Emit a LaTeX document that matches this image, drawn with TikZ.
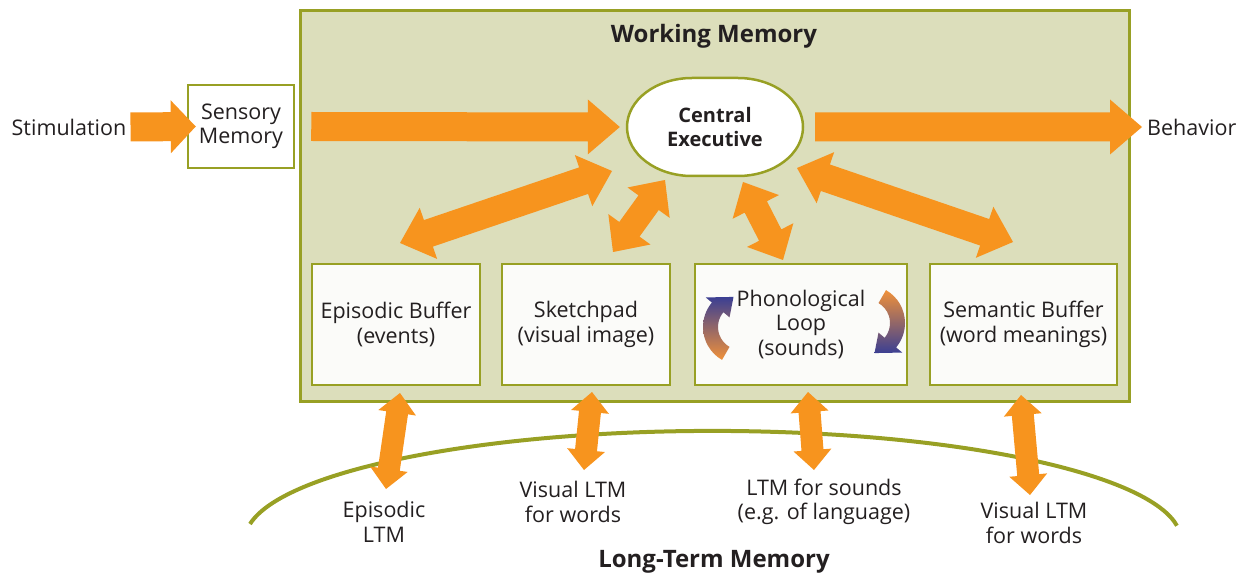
\documentclass[tikz,border=0pt]{standalone}
\usepackage{fontspec}
\setmainfont{Open Sans}
\usetikzlibrary{calc}
\definecolor{wmborder}{HTML}{98A024}
\definecolor{wmfill}{HTML}{DCDEBB}
\definecolor{boxfill}{HTML}{FBFBF9}
\definecolor{orng}{HTML}{F7941E}
\definecolor{txt}{HTML}{231F20}
\definecolor{loopblue}{HTML}{3B3F93}
\definecolor{looporange}{HTML}{F0913A}
\tikzset{
  membox/.style={draw=wmborder, line width=2.5pt, fill=boxfill, align=center, inner sep=0pt},
  lbl/.style={align=center, inner sep=2pt},
  titlefont/.style={font=\fontsize{24}{28}\selectfont\bfseries},
  ltmarc/.style={draw=wmborder, line width=4pt},
  fatarrow/.style={fill=orng},
}
% double-headed fat arrow: #1 tip, #2 tip, #3 body half width, #4 head half width, #5 head length
\newcommand\DblArrow[5]{%
  \coordinate (da1) at ($(#1)!#5!(#2)$);
  \coordinate (da2) at ($(#2)!#5!(#1)$);
  \path[fatarrow] (#1) -- ($(da1)!#4!90:(#2)$) -- ($(da1)!#3!90:(#2)$) -- ($(da2)!#3!-90:(#1)$) -- ($(da2)!#4!-90:(#1)$) -- (#2) -- ($(da2)!#4!90:(#1)$) -- ($(da2)!#3!90:(#1)$) -- ($(da1)!#3!-90:(#2)$) -- ($(da1)!#4!-90:(#2)$) -- cycle;}
% single fat arrow: #1 tail, #2 tip
\newcommand\OneArrow[5]{%
  \coordinate (sa1) at ($(#2)!#5!(#1)$);
  \path[fatarrow] ($(#1)!#3!90:(#2)$) -- ($(sa1)!#3!-90:(#1)$) -- ($(sa1)!#4!-90:(#1)$) -- (#2) -- ($(sa1)!#4!90:(#1)$) -- ($(sa1)!#3!90:(#1)$) -- ($(#1)!#3!-90:(#2)$) -- cycle;}
\begin{document}
\begin{tikzpicture}[x=1pt,y=-1pt, font=\fontsize{21.5}{24.5}\selectfont, text=txt]
\useasboundingbox (0,0) rectangle (1236,577);
% working memory box
\node[draw=wmborder, line width=3pt, fill=wmfill, minimum width=829pt, minimum height=390pt, inner sep=0pt] (wm) at (714.5,206) {};
\node[titlefont] (wmt) at (714,36) {Working Memory};
% nodes
\node[lbl] (stim) at (69,127) {Stimulation};
\node[membox, fill=white, minimum width=106pt, minimum height=83pt] (sens) at (241,126.5) {Sensory\\Memory};
\coordinate (cec) at (715,127);
\path[draw=wmborder, line width=2.5pt, fill=white] ($(cec)+(-23,-49)$) -- ++(46,0)
  arc[start angle=270, end angle=360, x radius=65, y radius=49]
  arc[start angle=0, end angle=90, x radius=65, y radius=49] -- ++(-46,0)
  arc[start angle=90, end angle=180, x radius=65, y radius=49]
  arc[start angle=180, end angle=270, x radius=65, y radius=49] -- cycle;
\node[align=center, inner sep=0pt, minimum width=176pt, minimum height=98pt, font=\fontsize{20}{24.5}\selectfont\bfseries] (ce) at (cec) {Central\\Executive};
\node[lbl, anchor=west] (beh) at (1145,127) {Behavior};
\node[membox, minimum width=168pt, minimum height=121pt] (epi) at (396,324.5) {Episodic Buffer\\(events)};
\node[membox, minimum width=168pt, minimum height=121pt] (sketch) at (586,324.5) {Sketchpad\\(visual image)};
\node[membox, minimum width=212pt, minimum height=121pt] (phon) at (801,324.5) {Phonological\\Loop\\(sounds)};
\node[membox, minimum width=187pt, minimum height=121pt] (sem) at (1023.5,324.5) {Semantic Buffer\\(word meanings)};
% long-term memory
\draw[ltmarc] (250,524) arc[start angle=188.4, end angle=352.5, x radius=468, y radius=109];
\node[lbl] (ltm1) at (384,522) {Episodic\\LTM};
\node[lbl] (ltm2) at (573,502) {Visual LTM\\for words};
\node[lbl] (ltm3) at (824,502) {LTM for sounds\\(e.g. of language)};
\node[lbl] (ltm4) at (1034,523) {Visual LTM\\for words};
\node[titlefont] (ltmt) at (714,562) {Long-Term Memory};
% connector end points
\coordinate (h1s) at ([xshift=2pt]stim.east); \coordinate (h1e) at ([xshift=9pt]sens.west);
\coordinate (h2s) at ([xshift=16pt]sens.east); \coordinate (h2e) at ([xshift=-7pt]ce.west);
\coordinate (h3s) at ([xshift=12pt]ce.east); \coordinate (h3e) at ([xshift=-3pt]beh.west);
\coordinate (a1s) at (400,243); \coordinate (a1e) at (612,171);
\coordinate (a2s) at (613,252); \coordinate (a2e) at (665,180);
\coordinate (a3s) at (743,182); \coordinate (a3e) at (783,260);
\coordinate (a4s) at (797,168); \coordinate (a4e) at (1013,242);
\coordinate (b1s) at (400,393); \coordinate (b1e) at (386,489);
\coordinate (b2s) at (592,392); \coordinate (b2e) at (584,470);
\coordinate (b3s) at (808,392); \coordinate (b3e) at (814,470);
\coordinate (b4s) at (1021,395); \coordinate (b4e) at (1030,495);
% horizontal arrows
\OneArrow{h1s}{h1e}{14.5pt}{26.5pt}{25pt}
\OneArrow{h2s}{h2e}{14.5pt}{27.5pt}{32pt}
\OneArrow{h3s}{h3e}{14.5pt}{27.5pt}{32pt}
% double arrows
\DblArrow{a1s}{a1e}{14pt}{27pt}{30pt}
\DblArrow{a2s}{a2e}{12.5pt}{26pt}{28pt}
\DblArrow{a3s}{a3e}{12.5pt}{26pt}{28pt}
\DblArrow{a4s}{a4e}{14pt}{27pt}{30pt}
\DblArrow{b1s}{b1e}{11pt}{19pt}{20pt}
\DblArrow{b2s}{b2e}{11pt}{19pt}{20pt}
\DblArrow{b3s}{b3e}{11pt}{19pt}{20pt}
\DblArrow{b4s}{b4e}{11pt}{19pt}{20pt}
% phonological loop arrows
\coordinate (lc) at (741,327);
\coordinate (rc) at (867,323);
\shade[top color=loopblue, bottom color=looporange]
  ($(lc)+(120:38)$) arc[start angle=120, end angle=220, radius=38]
  -- ($(lc)+(220:46)$) -- ($(lc)+(256:31)$) -- ($(lc)+(220:15)$) -- ($(lc)+(220:23)$)
  arc[start angle=220, end angle=120, radius=23] -- cycle;
\shade[top color=looporange, bottom color=loopblue]
  ($(rc)+(300:38)$) arc[start angle=300, end angle=400, radius=38]
  -- ($(rc)+(400:46)$) -- ($(rc)+(436:31)$) -- ($(rc)+(400:15)$) -- ($(rc)+(400:23)$)
  arc[start angle=400, end angle=300, radius=23] -- cycle;
\end{tikzpicture}
\end{document}
